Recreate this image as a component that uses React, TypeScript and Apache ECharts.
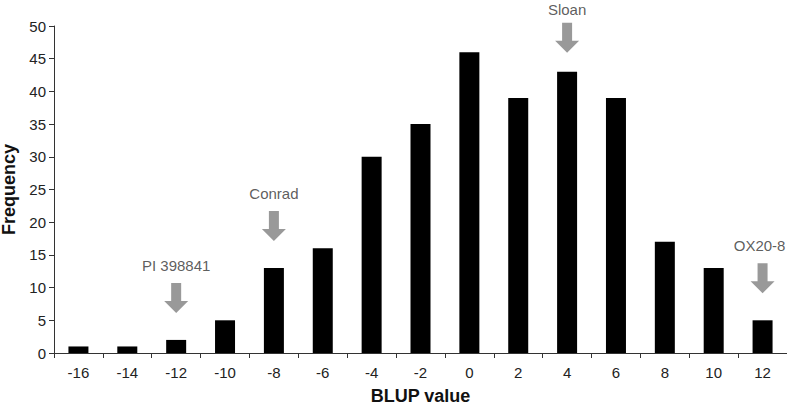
import React, { useEffect, useRef } from "react";
import * as echarts from "echarts";

const categories = ["-16", "-14", "-12", "-10", "-8", "-6", "-4", "-2", "0", "2", "4", "6", "8", "10", "12"];
const frequencies = [1, 1, 2, 5, 13, 16, 30, 35, 46, 39, 43, 39, 17, 13, 5];
const yTicks = { min: 0, max: 50, interval: 5 };
const annotCategories = ["-12", "-8", "4", "12"];
const annotLabels = ["PI 398841", "Conrad", "Sloan", "OX20-8"];

const FONT = "'Liberation Sans', Arial, sans-serif";
const ARROW = "path://M7,0 L17,0 L17,18 L24,18 L12,30 L0,18 L7,18 Z";

export default function App() {
  const ref = useRef<HTMLDivElement>(null);
  useEffect(() => {
    if (!ref.current) return;
    const chart = echarts.init(ref.current, null, { renderer: "svg" });
    const gaps: Record<string, number> = { "-12": 27, "-8": 27, "4": 19, "12": 27 };
    const labelShift: Record<string, number> = { "12": -3 };
    const labelDist: Record<string, number> = { "4": 6 };
    const annotData = annotCategories.map((c, i) => {
      const v = frequencies[categories.indexOf(c)];
      return {
        value: [c, v],
        name: annotLabels[i],
        symbolOffset: [0, -(gaps[c] + 15)],
        label: { offset: [labelShift[c] || 0, 0], distance: labelDist[c] ?? 10 },
      };
    });
    chart.setOption({
      animation: false,
      grid: { left: 54, right: 0, top: 26, bottom: 58, outerBoundsMode: "none", containLabel: false },
      xAxis: {
        type: "category",
        data: categories,
        name: "BLUP value",
        nameLocation: "middle",
        nameGap: 34,
        nameTextStyle: { fontFamily: FONT, fontWeight: "bold", fontSize: 18, color: "#111" },
        axisLine: { lineStyle: { color: "#333", width: 1 } },
        axisTick: { show: true, alignWithLabel: false, length: 5, lineStyle: { color: "#333" } },
        axisLabel: { fontFamily: FONT, fontSize: 15, color: "#222", margin: 12 },
      },
      yAxis: {
        type: "value",
        min: yTicks.min,
        max: yTicks.max,
        interval: yTicks.interval,
        name: "Frequency",
        nameLocation: "middle",
        nameGap: 33,
        nameTextStyle: { fontFamily: FONT, fontWeight: "bold", fontSize: 18, color: "#111" },
        axisLine: { show: true, lineStyle: { color: "#333", width: 1 } },
        axisTick: { show: true, length: 5, lineStyle: { color: "#333" } },
        axisLabel: { fontFamily: FONT, fontSize: 15, color: "#222", margin: 8 },
        splitLine: { show: false },
      },
      series: [
        {
          type: "bar",
          data: frequencies,
          barWidth: 20,
          itemStyle: { color: "#000" },
        },
        {
          type: "scatter",
          data: annotData,
          symbol: ARROW,
          symbolSize: [24, 30],
          itemStyle: { color: "#808080" },
          label: {
            show: true,
            position: "top",
            distance: 10,
            formatter: (p: any) => p.name,
            fontFamily: FONT,
            fontSize: 15,
            color: "#333",
          },
          z: 5,
        },
      ],
    });
    return () => chart.dispose();
  }, []);
  return <div ref={ref} style={{ width: 787, height: 411, position: "absolute", left: 0, top: 0 }} />;
}
